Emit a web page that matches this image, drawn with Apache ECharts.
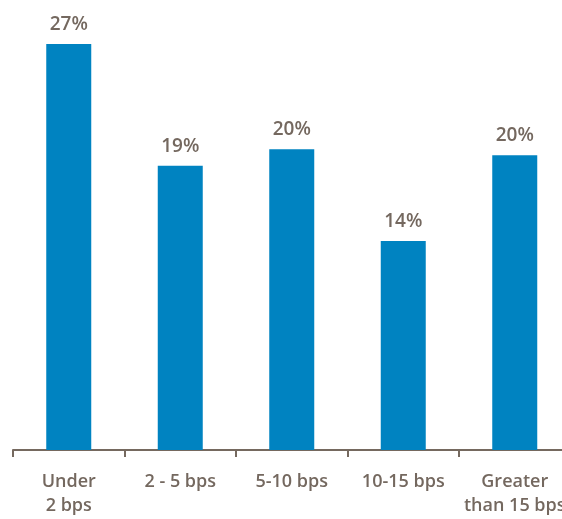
<!DOCTYPE html>
<html><head><meta charset="utf-8">
<script src="https://cdn.jsdelivr.net/npm/echarts@6/dist/echarts.min.js"></script>
<style>html,body{margin:0;padding:0;background:#fff}#c{width:562px;height:519px}</style>
</head><body><div id="c"></div>
<script>
const categories = ['Under\n2 bps', '2 - 5 bps', '5-10 bps', '10-15 bps', 'Greater\nthan 15 bps'];
const values = [27.0, 18.9, 20.0, 13.9, 19.6];
const textColor = '#74685f';
const chart = echarts.init(document.getElementById('c'));
chart.setOption({
  animation: false,
  grid: { left: 13, width: 557.5, top: 44, height: 406, containLabel: false, outerBoundsMode: 'none' },
  xAxis: {
    type: 'category', data: categories,
    axisLine: { lineStyle: { color: '#75695f', width: 2 } },
    axisTick: { show: true, length: 7, lineStyle: { color: '#75695f', width: 2 } },
    axisLabel: { color: textColor, fontFamily: 'Open Sans', fontWeight: 600, fontSize: 18, lineHeight: 24, margin: 20, interval: 0 }
  },
  yAxis: { type: 'value', min: 0, max: 27, show: false, splitLine: { show: false } },
  series: [{
    type: 'bar', data: values, barWidth: 45,
    itemStyle: { color: '#0083c1' },
    label: { show: true, position: 'top', distance: 10, color: textColor, fontFamily: 'Open Sans', fontWeight: 600, fontSize: 19,
      formatter: p => Math.round(p.value) + '%' }
  }]
});
</script></body></html>
